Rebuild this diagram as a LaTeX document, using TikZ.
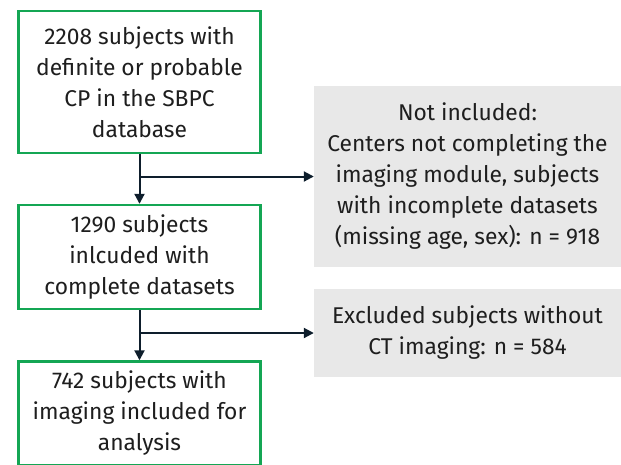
\documentclass[tikz,border=0pt]{standalone}
\usepackage{fontspec}
\setmainfont{Fira Sans}
\usetikzlibrary{arrows.meta}
\definecolor{boxgreen}{RGB}{20,166,84}
\definecolor{boxgrey}{RGB}{232,232,232}
\definecolor{txt}{RGB}{30,30,30}
\definecolor{arr}{RGB}{14,30,44}
\tikzset{
  x=1pt, y=-1pt,
  greenbox/.style={draw=boxgreen, line width=2.4pt, fill=white, text=txt, align=center,
    minimum width=242pt, inner sep=0pt, font=\fontsize{22.8}{31}\selectfont},
  greybox/.style={fill=boxgrey, draw=none, text=txt, align=center,
    minimum width=307pt, inner sep=0pt, font=\fontsize{22.8}{31}\selectfont},
  arrow/.style={draw=arr, line width=2pt, -{Triangle[length=10pt,width=10pt]}}
}
\begin{document}
\begin{tikzpicture}
\useasboundingbox (0,0) rectangle (621,464);
\clip (0,0) rectangle (621,464);
\node[greenbox, minimum height=142pt] (b1) at (139.5,82) {2208 subjects with\\definite or probable\\CP in the SBPC\\database};
\node[greenbox, minimum height=104pt] (b2) at (139.5,257) {1290 subjects\\inlcuded with\\complete datasets};
\node[greenbox, minimum height=104pt] (b3) at (139.5,413.5) {742 subjects with\\imaging included for\\analysis};
\node[greybox, minimum height=181pt] (g1) at (467.5,176.5) {Not included:\\Centers not completing the\\imaging module, subjects\\with incomplete datasets\\(missing age, sex): n = 918};
\node[greybox, minimum height=88pt] (g2) at (467.5,333) {Excluded subjects without\\CT imaging: n = 584};
\draw[arrow] (b1.south) -- (b2.north);
\draw[arrow] (b1.south |- g1.west) -- (g1.west);
\draw[arrow] (b2.south) -- (b3.north);
\draw[arrow] (b2.south |- g2.west) -- (g2.west);
\end{tikzpicture}
\end{document}
